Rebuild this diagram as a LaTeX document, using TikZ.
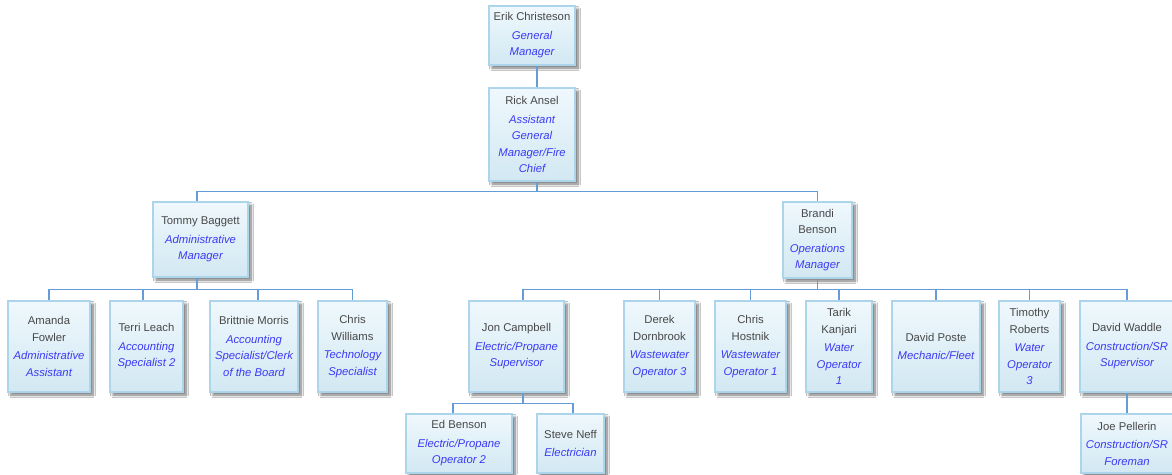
\documentclass[tikz,border=0pt]{standalone}
\usepackage{fontspec}
\setmainfont{Liberation Sans}
\usetikzlibrary{shadows.blur}
\definecolor{boxborder}{RGB}{172,212,234}
\definecolor{boxtop}{RGB}{239,248,253}
\definecolor{boxbot}{RGB}{210,232,242}
\definecolor{linec}{RGB}{100,156,216}
\definecolor{namec}{RGB}{72,72,72}
\definecolor{titlec}{RGB}{58,58,245}
\newcommand\nm[1]{\textcolor{namec}{#1}}
\newcommand\tl[1]{\textcolor{titlec}{\itshape #1}}
\begin{document}
\begin{tikzpicture}[x=1pt,y=-1pt,
  card/.style={draw=boxborder, line width=1.4pt, top color=boxtop, bottom color=boxbot,
    inner sep=0pt, align=center, font=\fontsize{11.3}{16.5}\selectfont,
    blur shadow={shadow xshift=3pt, shadow yshift=-3pt, shadow blur radius=2.5pt,
      shadow blur steps=8, shadow opacity=55}},
  conn/.style={draw=linec, line width=1.1pt}]
\fill[white] (0,0) rectangle (1172,474);
\useasboundingbox (0,0) rectangle (1172,474);

% level 0-1
\node[card, minimum width=86pt, minimum height=59pt] (erik) at (532,35.5)
  {\nm{Erik Christeson}\\[2pt]\tl{General}\\\tl{Manager}};
\node[card, minimum width=86pt, minimum height=93pt] (rick) at (532,134.5)
  {\nm{Rick Ansel}\\[2pt]\tl{Assistant}\\\tl{General}\\\tl{Manager/Fire}\\\tl{Chief}};

% level 2
\node[card, minimum width=95pt, minimum height=75pt] (tommy) at (200.5,239.5)
  {\nm{Tommy Baggett}\\[2pt]\tl{Administrative}\\\tl{Manager}};
\node[card, minimum width=69pt, minimum height=76pt] (brandi) at (817.5,240)
  {\nm{Brandi}\\\nm{Benson}\\[2pt]\tl{Operations}\\\tl{Manager}};

% level 3
\node[card, minimum width=82pt, minimum height=91pt] (amanda) at (49,346.5)
  {\nm{Amanda}\\\nm{Fowler}\\[2pt]\tl{Administrative}\\\tl{Assistant}};
\node[card, minimum width=73pt, minimum height=91pt] (terri) at (146.5,346.5)
  {\nm{Terri Leach}\\[2pt]\tl{Accounting}\\\tl{Specialist 2}};
\node[card, minimum width=88pt, minimum height=91pt] (brittnie) at (254,346.5)
  {\nm{Brittnie Morris}\\[2pt]\tl{Accounting}\\\tl{Specialist/Clerk}\\\tl{of the Board}};
\node[card, minimum width=69pt, minimum height=91pt] (chrisw) at (352.5,346.5)
  {\nm{Chris}\\\nm{Williams}\\[2pt]\tl{Technology}\\\tl{Specialist}};
\node[card, minimum width=95pt, minimum height=91pt] (jon) at (516.5,346.5)
  {\nm{Jon Campbell}\\[2pt]\tl{Electric/Propane}\\\tl{Supervisor}};
\node[card, minimum width=71pt, minimum height=91pt] (derek) at (659.5,346.5)
  {\nm{Derek}\\\nm{Dornbrook}\\[2pt]\tl{Wastewater}\\\tl{Operator 3}};
\node[card, minimum width=71pt, minimum height=91pt] (chrish) at (750.5,346.5)
  {\nm{Chris}\\\nm{Hostnik}\\[2pt]\tl{Wastewater}\\\tl{Operator 1}};
\node[card, minimum width=66pt, minimum height=91pt] (tarik) at (839,346.5)
  {\nm{Tarik}\\\nm{Kanjari}\\[2pt]\tl{Water}\\\tl{Operator}\\\tl{1}};
\node[card, minimum width=88pt, minimum height=91pt] (dposte) at (936,346.5)
  {\nm{David Poste}\\[2pt]\tl{Mechanic/Fleet}};
\node[card, minimum width=61pt, minimum height=91pt] (timothy) at (1029.5,346.5)
  {\nm{Timothy}\\\nm{Roberts}\\[2pt]\tl{Water}\\\tl{Operator}\\\tl{3}};
\node[card, minimum width=94pt, minimum height=91pt] (dwaddle) at (1127,346.5)
  {\nm{David Waddle}\\[2pt]\tl{Construction/SR}\\\tl{Supervisor}};

% level 4
\node[card, minimum width=106pt, minimum height=59pt] (ed) at (459,443.5)
  {\nm{Ed Benson}\\[2pt]\tl{Electric/Propane}\\\tl{Operator 2}};
\node[card, minimum width=67pt, minimum height=59pt] (steve) at (570.5,443.5)
  {\nm{Steve Neff}\\[2pt]\tl{Electrician}};
\node[card, minimum width=92pt, minimum height=59pt] (joe) at (1127,443.5)
  {\nm{Joe Pellerin}\\[2pt]\tl{Construction/SR}\\\tl{Foreman}};

% connectors
\draw[conn] ([xshift=5pt]erik.south) -- ([xshift=5pt]rick.north);
\draw[conn] ([xshift=5pt]rick.south) -- ++(0,10) -| ([xshift=-3.5pt]tommy.north);
\draw[conn] ([xshift=5pt]rick.south) -- ++(0,10) -| (brandi.north);

\draw[conn] ([xshift=-3.5pt]tommy.south) -- ++(0,12) -| (amanda.north);
\draw[conn] ([xshift=-3.5pt]tommy.south) -- ++(0,12) -| ([xshift=-3.5pt]terri.north);
\draw[conn] ([xshift=-3.5pt]tommy.south) -- ++(0,12) -| ([xshift=4pt]brittnie.north);
\draw[conn] ([xshift=-3.5pt]tommy.south) -- ++(0,12) -| (chrisw.north);

\draw[conn] (brandi.south) -- ++(0,11) -| ([xshift=6.5pt]jon.north);
\draw[conn] (brandi.south) -- ++(0,11) -| (derek.north);
\draw[conn] (brandi.south) -- ++(0,11) -| (chrish.north);
\draw[conn] (brandi.south) -- ++(0,11) -| (tarik.north);
\draw[conn] (brandi.south) -- ++(0,11) -| (dposte.north);
\draw[conn] (brandi.south) -- ++(0,11) -| (timothy.north);
\draw[conn] (brandi.south) -- ++(0,11) -| (dwaddle.north);

\draw[conn] ([xshift=6.5pt]jon.south) -- ++(0,11) -| ([xshift=-6pt]ed.north);
\draw[conn] ([xshift=6.5pt]jon.south) -- ++(0,11) -| ([xshift=2.5pt]steve.north);

\draw[conn] (dwaddle.south) -- (joe.north);
\end{tikzpicture}
\end{document}
